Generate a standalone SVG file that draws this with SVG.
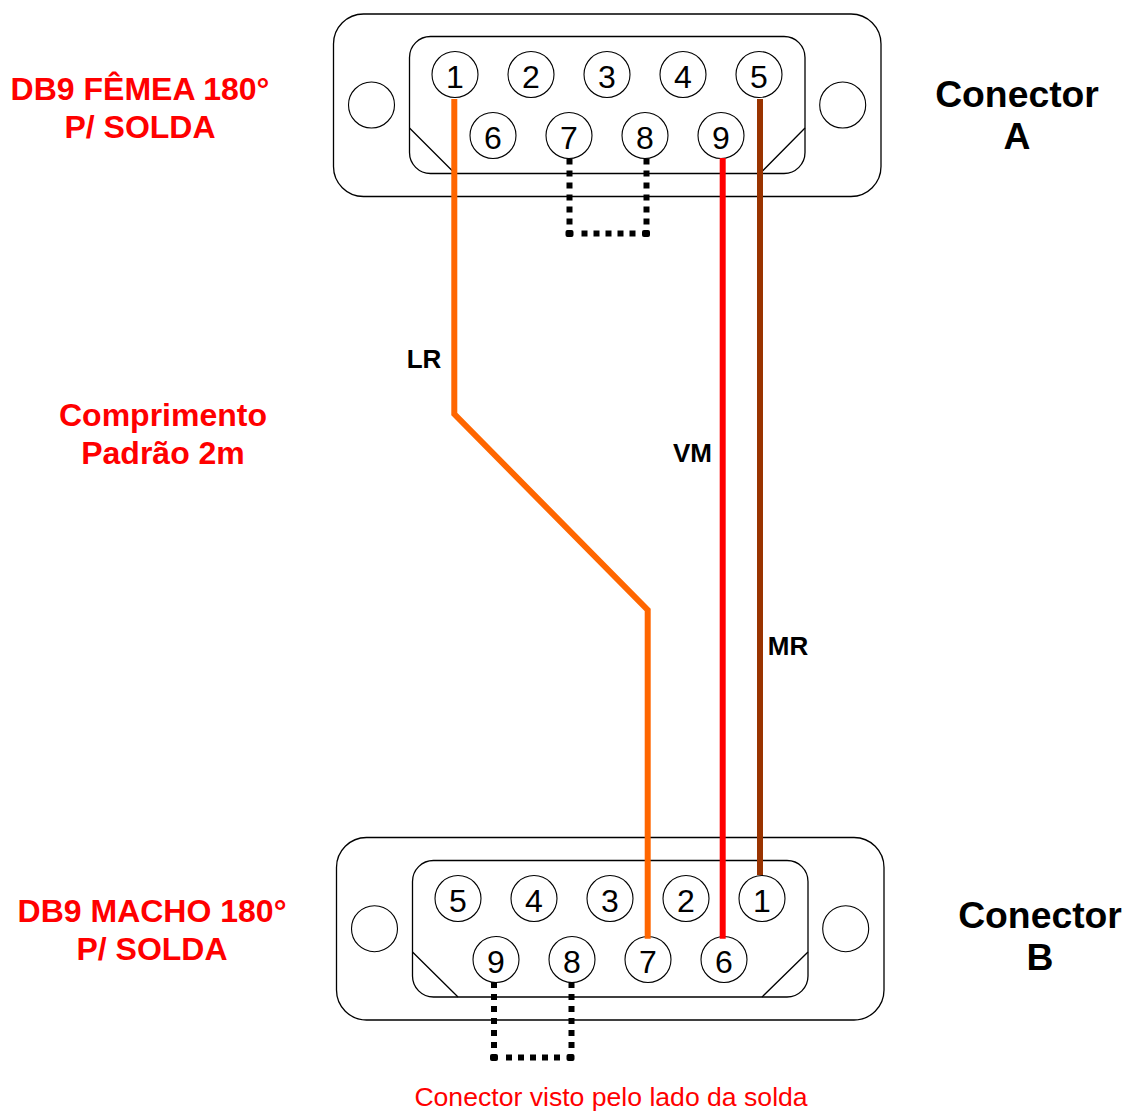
<svg xmlns="http://www.w3.org/2000/svg" width="1127" height="1111" viewBox="0 0 1127 1111">
<style>
.shell{fill:#fff;stroke:#000;stroke-width:1.3}
.line{fill:none;stroke:#000;stroke-width:1.3}
.pin{fill:#fff;stroke:#000;stroke-width:1.1}
.num{font:32px "Liberation Sans",Arial,sans-serif;text-anchor:middle;fill:#000}
.wire{fill:none;stroke-width:6}
.jump{fill:none;stroke:#000;stroke-width:6;stroke-dasharray:6 6}
.dot{fill:#000}
.red{font:bold 32px "Liberation Sans",Arial,sans-serif;text-anchor:middle;fill:#f00}
.title{font:bold 37.3px "Liberation Sans",Arial,sans-serif;text-anchor:middle;fill:#000}
.lab{font:bold 26px "Liberation Sans",Arial,sans-serif;text-anchor:middle;fill:#000}
.note{font:26.6px "Liberation Sans",Arial,sans-serif;text-anchor:middle;fill:#f00}
</style>
<g id="connector-a">
<rect class="shell" x="333.5" y="14" width="547.5" height="182.5" rx="30" ry="30"/>
<rect class="shell" x="409.5" y="36.5" width="395.5" height="137" rx="21" ry="21"/>
<path class="line" d="M409.5 128L455 173.5M805 128L760 173.5"/>
<circle class="pin" cx="371.5" cy="105" r="23"/><circle class="pin" cx="842.7" cy="105" r="23"/>
<g><circle class="pin" cx="455" cy="74.5" r="23"/><text class="num" x="455" y="88">1</text></g>
<g><circle class="pin" cx="531" cy="74.5" r="23"/><text class="num" x="531" y="88">2</text></g>
<g><circle class="pin" cx="607" cy="74.5" r="23"/><text class="num" x="607" y="88">3</text></g>
<g><circle class="pin" cx="683" cy="74.5" r="23"/><text class="num" x="683" y="88">4</text></g>
<g><circle class="pin" cx="759" cy="74.5" r="23"/><text class="num" x="759" y="88">5</text></g>
<g><circle class="pin" cx="493" cy="135.5" r="23"/><text class="num" x="493" y="149">6</text></g>
<g><circle class="pin" cx="569" cy="135.5" r="23"/><text class="num" x="569" y="149">7</text></g>
<g><circle class="pin" cx="645" cy="135.5" r="23"/><text class="num" x="645" y="149">8</text></g>
<g><circle class="pin" cx="721" cy="135.5" r="23"/><text class="num" x="721" y="149">9</text></g>
</g>
<g id="connector-b">
<rect class="shell" x="336.5" y="837.5" width="547.5" height="182.5" rx="30" ry="30"/>
<rect class="shell" x="412.5" y="860.5" width="395.5" height="136.5" rx="21" ry="21"/>
<path class="line" d="M412.5 952L458 997M808 952L762 997"/>
<circle class="pin" cx="374.5" cy="928.7" r="23"/><circle class="pin" cx="845.7" cy="928.7" r="23"/>
<g><circle class="pin" cx="458" cy="898.5" r="23"/><text class="num" x="458" y="912">5</text></g>
<g><circle class="pin" cx="534" cy="898.5" r="23"/><text class="num" x="534" y="912">4</text></g>
<g><circle class="pin" cx="610" cy="898.5" r="23"/><text class="num" x="610" y="912">3</text></g>
<g><circle class="pin" cx="686" cy="898.5" r="23"/><text class="num" x="686" y="912">2</text></g>
<g><circle class="pin" cx="762" cy="898.5" r="23"/><text class="num" x="762" y="912">1</text></g>
<g><circle class="pin" cx="496" cy="959.5" r="23"/><text class="num" x="496" y="973">9</text></g>
<g><circle class="pin" cx="572" cy="959.5" r="23"/><text class="num" x="572" y="973">8</text></g>
<g><circle class="pin" cx="648" cy="959.5" r="23"/><text class="num" x="648" y="973">7</text></g>
<g><circle class="pin" cx="724" cy="959.5" r="23"/><text class="num" x="724" y="973">6</text></g>
</g>
<g id="connectors">
<path class="wire" stroke="#f60" d="M454.3 99V414L647.7 610V938.7"/>
<path class="wire" stroke="#f00" d="M722.7 158V938.7"/>
<path class="wire" stroke="#930" d="M760 99V875"/>
<path class="jump" d="M569.5 158.5V226"/>
<path class="jump" d="M581.5 233.5H636"/>
<path class="jump" d="M646.5 158.5V226"/>
<rect class="dot" x="565.5" y="230" width="8" height="7" rx="2"/>
<rect class="dot" x="642" y="230" width="8" height="7" rx="2"/>
<path class="jump" d="M494 982V1050"/>
<path class="jump" d="M506 1057.5H560"/>
<path class="jump" d="M571.5 982V1050"/>
<rect class="dot" x="490" y="1054" width="8" height="7" rx="2"/>
<rect class="dot" x="566.5" y="1054" width="8" height="7" rx="2"/>
</g>
<g id="labels">
<text class="red" x="140" y="100">DB9 FÊMEA 180°</text>
<text class="red" x="140" y="138">P/ SOLDA</text>
<text class="red" x="163" y="426">Comprimento</text>
<text class="red" x="163" y="464">Padrão 2m</text>
<text class="red" x="152" y="921.5">DB9 MACHO 180°</text>
<text class="red" x="152" y="959.5">P/ SOLDA</text>
<text class="title" x="1017" y="107">Conector</text>
<text class="title" x="1017" y="149">A</text>
<text class="title" x="1040" y="928">Conector</text>
<text class="title" x="1040" y="970">B</text>
<text class="lab" x="424" y="368">LR</text>
<text class="lab" x="692.5" y="462">VM</text>
<text class="lab" x="788" y="655">MR</text>
<text class="note" x="611" y="1106">Conector visto pelo lado da solda</text>
</g>
</svg>
